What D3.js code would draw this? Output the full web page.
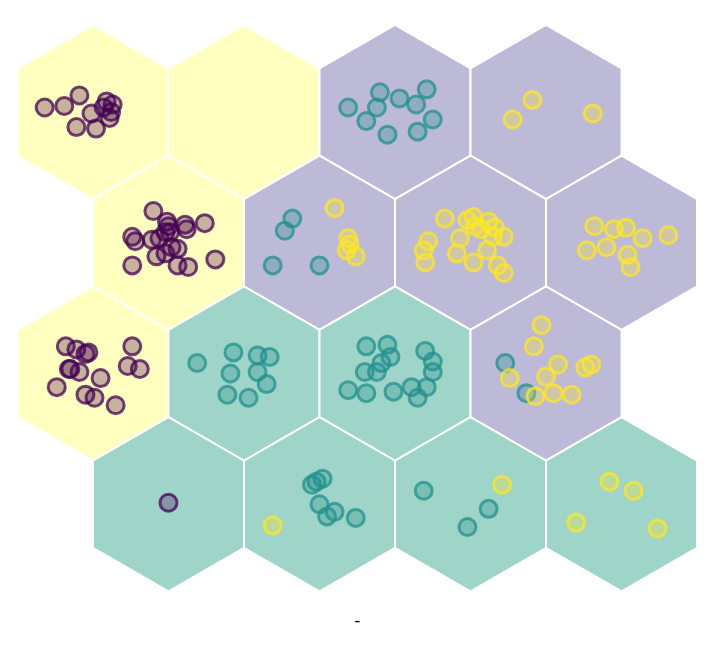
<!DOCTYPE html>
<html>
<head>
<meta charset="utf-8">
<script src="https://cdn.jsdelivr.net/npm/d3@7"></script>
<style>
  body { margin: 0; background: #fff; }
  text { font-family: "DejaVu Sans", sans-serif; }
</style>
</head>
<body>
<div id="chart"></div>
<script>
// SOM grid 4 x 4, hexagonal, rows top to bottom
var nCols = 4, nRows = 4;
var species = ["setosa", "versicolor", "virginica"];

// class of each node (row by row)
var nodeClass = [
  "setosa", "setosa", "virginica", "virginica",
  "setosa", "virginica", "virginica", "virginica",
  "setosa", "versicolor", "versicolor", "virginica",
  "versicolor", "versicolor", "versicolor", "versicolor"
];

// points: [node, dx, dy] offsets in hundredths of a node spacing
var setosaPts = [
  [0,-32,-3],[0,-19,-4],[0,-9,-11],[0,-11,10],[0,-1,1],[0,2,11],[0,9,-7],[0,13,-5],[0,11,4],[0,12,0],[0,7,-3],
  [4,-10,-21],[4,-24,-4],[4,-22,-1],[4,-24,15],[4,-1,-14],[4,0,-11],[4,11,-12],[4,12,-9],[4,24,-13],[4,31,11],
  [4,13,16],[4,6,15],[4,-8,9],[4,-2,7],[4,6,4],[4,-11,-2],[4,-6,-3],[4,1,-7],[4,-2,-7],[4,2,3],
  [8,-18,-18],[8,-11,-16],[8,-3,-14],[8,-5,-13],[8,-15,-3],[8,-9,-1],[8,-24,9],[8,5,3],[8,-5,14],[8,1,16],
  [8,15,21],[8,26,-18],[8,23,-5],[8,31,-3],[8,-16,-3],
  [12,0,-1]
];
var versicolorPts = [
  [2,-31,-3],[2,-19,6],[2,-12,-3],[2,-10,-13],[2,3,-9],[2,14,-5],[2,21,-15],[2,25,5],[2,15,13],[2,-5,15],
  [5,-18,-16],[5,-23,-8],[5,-31,15],[5,0,15],
  [9,-31,-7],[9,-7,-14],[9,-9,0],[9,-11,14],[9,3,16],[9,9,-12],[9,17,-11],[9,9,-1],[9,15,7],
  [10,-19,-18],[10,-5,-19],[10,-3,-11],[10,-9,-7],[10,-12,-1],[10,-20,-1],[10,-31,11],[10,-19,13],
  [10,-1,12],[10,11,9],[10,15,16],[10,21,9],[10,20,-15],[10,25,-8],[10,25,-1],
  [11,-27,-7],[11,-13,13],
  [13,-5,-13],[13,-2,-15],[13,2,-17],[13,0,0],[13,5,8],[13,10,5],[13,24,9],
  [14,-31,-9],[14,12,3],[14,-2,15]
];
var virginicaPts = [
  [3,-22,5],[3,-9,-8],[3,31,1],
  [5,10,-23],[5,19,-3],[5,18,5],[5,24,9],[5,20,1],
  [6,-17,-16],[6,-28,-1],[6,-31,5],[6,-30,13],[6,-7,-3],[6,-9,7],[6,2,13],[6,-2,-15],[6,2,-17],
  [6,12,-14],[6,16,-10],[6,15,-4],[6,22,-4],[6,11,5],[6,18,15],[6,22,20],[6,3,-11],[6,7,-9],
  [7,-18,-11],[7,-5,-9],[7,3,-10],[7,14,-3],[7,31,-5],[7,-23,5],[7,-10,3],[7,4,8],[7,6,16],
  [11,-3,-32],[11,-8,-18],[11,-24,3],[11,8,-6],[11,0,2],[11,-7,15],[11,5,13],[11,17,14],[11,26,-4],[11,30,-6],
  [13,-31,14],
  [14,21,-13],
  [15,-8,-15],[15,8,-9],[15,-30,12],[15,24,16]
];

var xLabel = "-";

var nodeColors = ["#ffffbf", "#9fd4c8", "#bdbad8"];   // setosa, versicolor, virginica
var pointColors = ["#440154", "#21908d", "#fde725"];

var width = 720, height = 650;

var svg = d3.select("#chart").append("svg")
    .attr("width", width)
    .attr("height", height);

// grid coordinates: x = col + 0.5 * (row odd), y = row * sqrt(3)/2
var h = Math.sqrt(3) / 2;
var x = d3.scaleLinear().domain([0, 3.5]).range([93, 93 + 3.5 * 151]);
var y = d3.scaleLinear().domain([0, 3 * h]).range([112, 112 + 3 * h * 151]);
var nodeColor = d3.scaleOrdinal().domain(species).range(nodeColors);
var pointColor = d3.scaleOrdinal().domain(species).range(pointColors);

var nodes = d3.range(nRows * nCols).map(function(i) {
  var r = Math.floor(i / nCols), c = i % nCols;
  return { id: i, gx: c + (r % 2) * 0.5, gy: r * h, cls: nodeClass[i] };
});

var rad = x(1 / Math.sqrt(3)) - x(0);
function hexPath(d) {
  var cx = x(d.gx), cy = y(d.gy);
  var pts = d3.range(6).map(function(k) {
    var a = Math.PI / 3 * k - Math.PI / 2;
    return [cx + rad * Math.cos(a), cy + rad * Math.sin(a)];
  });
  return "M" + pts.join("L") + "Z";
}

svg.append("g").selectAll("path")
  .data(nodes)
  .enter()
  .append("path")
  .attr("d", hexPath)
  .attr("fill", function(d) { return nodeColor(d.cls); })
  .attr("stroke", "#fff")
  .attr("stroke-width", 2);

var points = [];
[setosaPts, versicolorPts, virginicaPts].forEach(function(arr, s) {
  arr.forEach(function(p) {
    var n = nodes[p[0]];
    points.push({ sp: species[s], gx: n.gx + p[1] / 100, gy: n.gy + p[2] / 100 });
  });
});

svg.append("g").selectAll("circle")
  .data(points)
  .enter()
  .append("circle")
  .attr("cx", function(d) { return x(d.gx); })
  .attr("cy", function(d) { return y(d.gy); })
  .attr("r", 8.5)
  .attr("fill", function(d) { return pointColor(d.sp); })
  .attr("fill-opacity", 0.3)
  .attr("stroke", function(d) { return pointColor(d.sp); })
  .attr("stroke-opacity", 0.75)
  .attr("stroke-width", 3);

svg.append("text")
  .attr("x", x(1.75))
  .attr("y", 626)
  .attr("text-anchor", "middle")
  .attr("font-size", 17)
  .attr("fill", "#000")
  .text(xLabel);
</script>
</body>
</html>
